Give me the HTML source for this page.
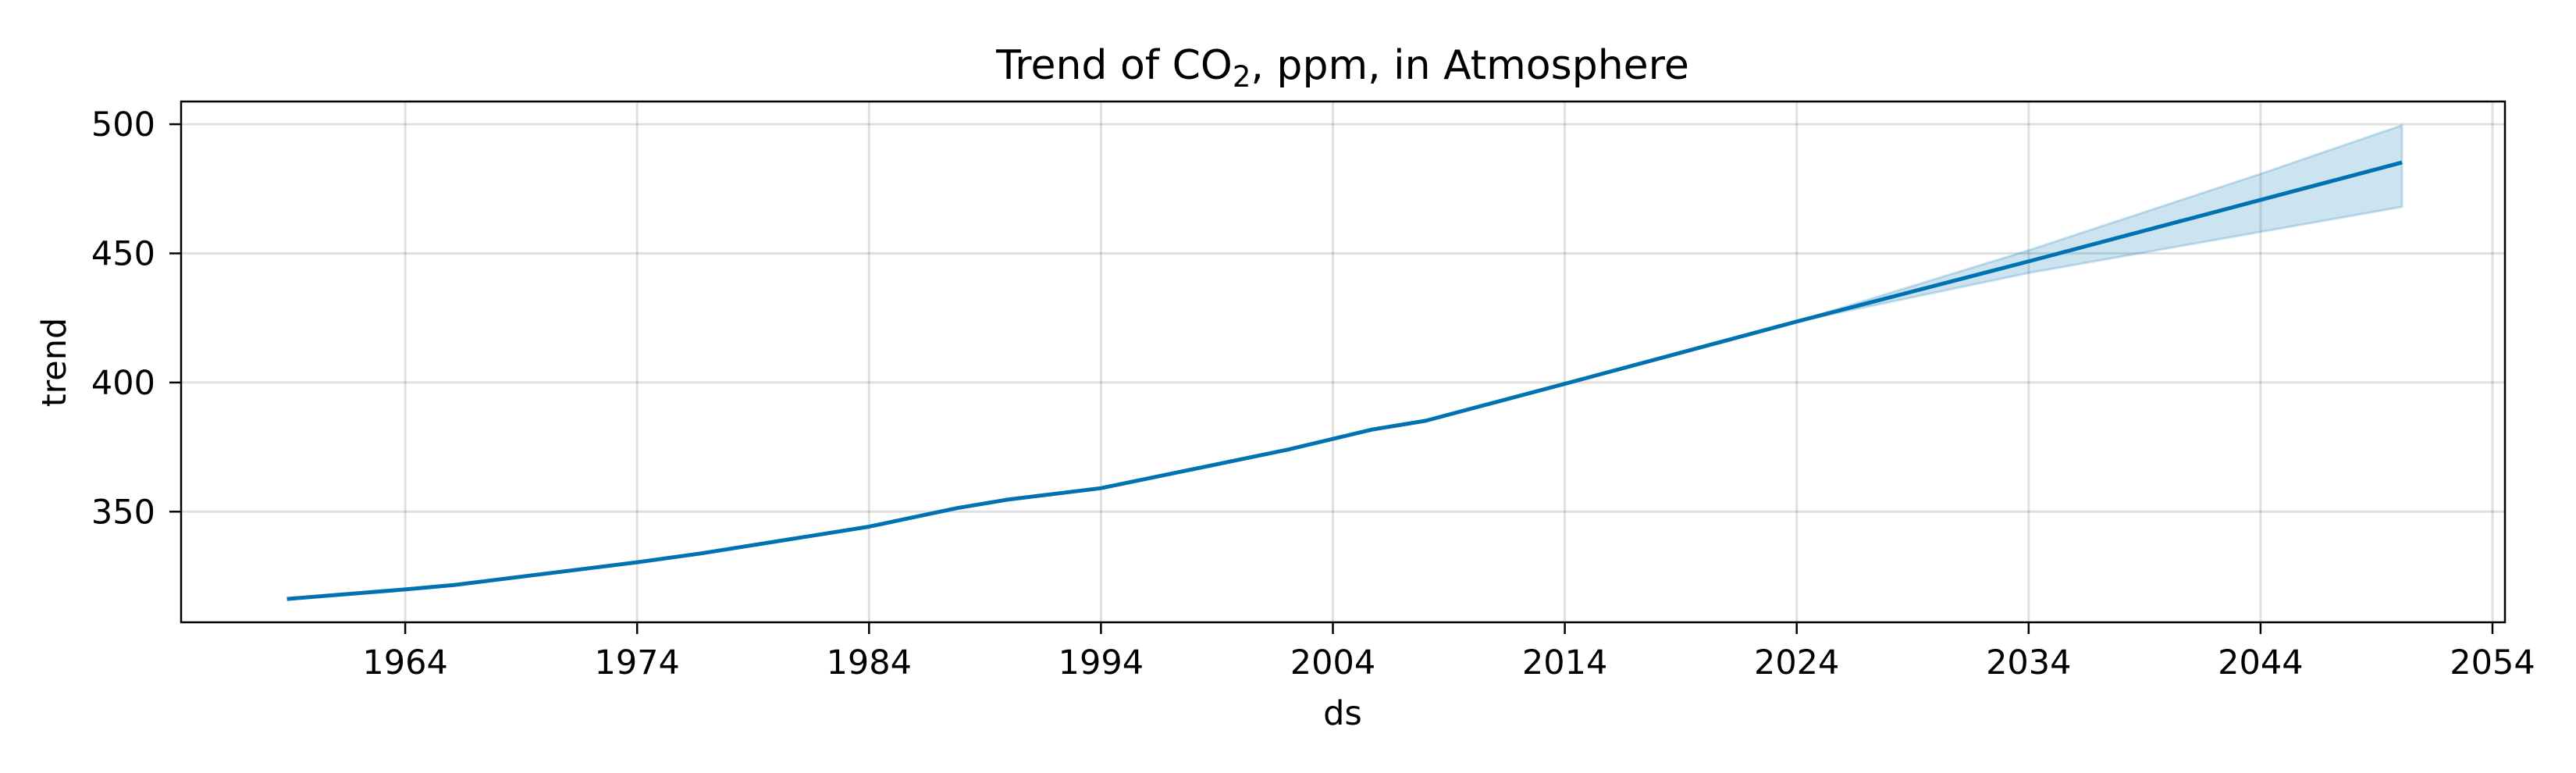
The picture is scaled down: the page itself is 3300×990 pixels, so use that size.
<!DOCTYPE html>
<html><head><meta charset="utf-8">
<style>
html,body{margin:0;padding:0;background:#fff;}
svg{display:block;font-family:"DejaVu Sans","Liberation Sans",sans-serif;}
</style></head>
<body>
<svg id="chart" width="3300" height="990" viewBox="0 0 3300 990" xmlns="http://www.w3.org/2000/svg">
<rect width="3300" height="990" fill="#fff"/>
<g id="grid"></g>
<g id="band"></g>
<g id="lines"></g>
<rect x="232" y="130" width="2977" height="667" fill="none" stroke="#000" stroke-width="2.5"/>
<g id="xticks"></g>
<g id="yticks"></g>
<text x="1720" y="101" font-size="52" text-anchor="middle">Trend of CO<tspan font-size="37" dy="10">2</tspan><tspan dy="-10">, ppm, in Atmosphere</tspan></text>
<text x="1720" y="928" font-size="43" text-anchor="middle">ds</text>
<text x="0" y="0" font-size="43" text-anchor="middle" transform="translate(84,464) rotate(-90)">trend</text>
</svg>
<script>
const years = [1958.9,1964,1966.1,1974,1976.8,1984,1987.8,1990,1994,2002,2005.7,2008,2014,2024,2034,2044,2050.1];
const trend = [316.2,319.9,321.6,330.4,333.9,344.2,351.4,354.7,359.1,373.9,381.8,385.2,399.5,423.6,446.9,470.7,485.2];
const bandYears = [2024,2034,2044,2050.1];
const bandUpper = [423.6,451.2,480.8,499.6];
const bandLower = [423.6,442.4,458.3,468.0];
const xTicks = [1964,1974,1984,1994,2004,2014,2024,2034,2044,2054];
const yTicks = [350,400,450,500];

const X0=232,X1=3209,Y0=130,Y1=797;
function xs(yr){return 2301.7+(yr-2024)*29.71;}
function ys(v){return 489.9-(v-400)*3.308;}
const NS='http://www.w3.org/2000/svg';
function mk(tag,attrs,parent){const e=document.createElementNS(NS,tag);for(const k in attrs)e.setAttribute(k,attrs[k]);parent.appendChild(e);return e;}

const grid=document.getElementById('grid'),xt=document.getElementById('xticks'),yt=document.getElementById('yticks');
xTicks.forEach(t=>{
  const x=xs(t);
  const g=mk('line',{x1:x,x2:x,y1:Y0,y2:Y1,stroke:'#000','stroke-opacity':0.12,'stroke-width':3},grid);
  
  
  const tk=mk('line',{x1:x,x2:x,y1:Y1,y2:Y1+15,stroke:'#000','stroke-width':2.5},xt);
  
  
  const tx=mk('text',{x:x,y:863,'font-size':43,'text-anchor':'middle'},xt);
  tx.textContent=t;
  
  
});
yTicks.forEach(t=>{
  const y=ys(t);
  const g=mk('line',{x1:X0,x2:X1,y1:y,y2:y,stroke:'#000','stroke-opacity':0.12,'stroke-width':3},grid);
  
  
  const tk=mk('line',{x1:X0-15,x2:X0,y1:y,y2:y,stroke:'#000','stroke-width':2.5},yt);
  
  
  const tx=mk('text',{x:199,y:y+15,'font-size':43,'text-anchor':'end'},yt);
  tx.textContent=t;
  
  
});
let pts=bandYears.map((yr,i)=>xs(yr)+','+ys(bandUpper[i]));
for(let i=bandYears.length-1;i>=0;i--)pts.push(xs(bandYears[i])+','+ys(bandLower[i]));
const band=mk('polygon',{points:pts.join(' '),fill:'#0072B2','fill-opacity':0.2,stroke:'#0072B2','stroke-opacity':0.2,'stroke-width':3},document.getElementById('band'));


const line=mk('polyline',{points:years.map((yr,i)=>xs(yr)+','+ys(trend[i])).join(' '),fill:'none',stroke:'#0072B2','stroke-width':5,'stroke-linejoin':'round'},document.getElementById('lines'));


</script>
</body></html>
